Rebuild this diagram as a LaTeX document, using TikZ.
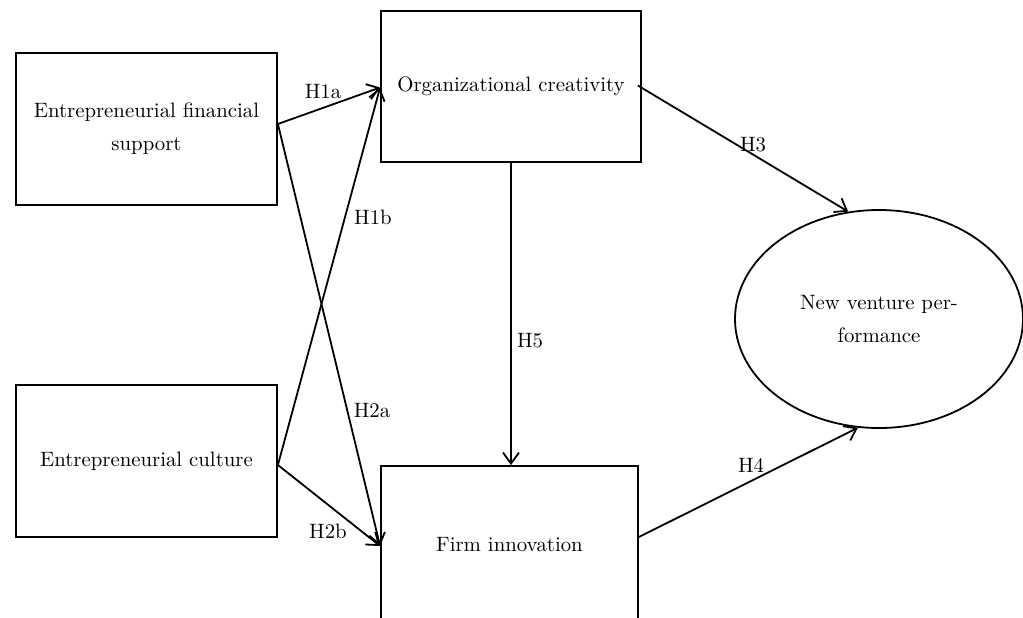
\documentclass[tikz,border=0pt]{standalone}
\usetikzlibrary{arrows.meta,shapes.geometric,calc}
\begin{document}
\begin{tikzpicture}[x=0.5pt,y=-0.5pt,
  every node/.style={font=\fontsize{10.4}{16.5}\selectfont, inner sep=0pt},
  box/.style={draw, line width=0.9pt, rectangle, align=center},
  oval/.style={draw, line width=0.9pt, ellipse, align=center},
  link/.style={line width=0.9pt, -{Straight Barb[length=5.5pt,width=8pt,line width=0.9pt]}},
  hlabel/.style={}
]
\useasboundingbox (0,0) rectangle (1023,617);
\node[box, minimum width=130.5pt, minimum height=76pt] (A) at (146.5,129) {Entrepreneurial financial\\support};
\node[box, minimum width=130.5pt, minimum height=76pt] (B) at (146.5,461) {Entrepreneurial culture};
\node[box, minimum width=130pt, minimum height=75.5pt] (C) at (511,86.5) {Organizational creativity};
\node[box, minimum width=128.5pt, minimum height=79pt] (D) at (509.5,545) {Firm innovation};
\node[oval, minimum width=144pt, minimum height=109pt] (E) at (879,319) {New venture per-\\formance};

\draw[link] ($(A.east)+(0,-5)$) -- ($(C.west)+(0,1)$);
\draw[link] ($(A.east)+(0,-5)$) -- ($(D.west)+(0,1)$);
\draw[link] ($(B.east)+(0,4)$) -- ($(C.west)+(0,1)$);
\draw[link] ($(B.east)+(0,4)$) -- ($(D.west)+(0,1)$);
\draw[link] ($(C.east)+(-4,-1)$) -- (E.106);
\draw[link] (C.south) -- ($(D.north)+(1.5,0)$);
\draw[link] ($(D.east)+(0,-8)$) -- (E.259);

\node[hlabel] (l1a) at (323,92) {H1a};
\node[hlabel] (l1b) at (373,217) {H1b};
\node[hlabel] (l2a) at (372,411) {H2a};
\node[hlabel] (l2b) at (328,531) {H2b};
\node[hlabel] (l3) at (753,145) {H3};
\node[hlabel] (l4) at (751,465) {H4};
\node[hlabel] (l5) at (530,341) {H5};
\end{tikzpicture}
\end{document}
